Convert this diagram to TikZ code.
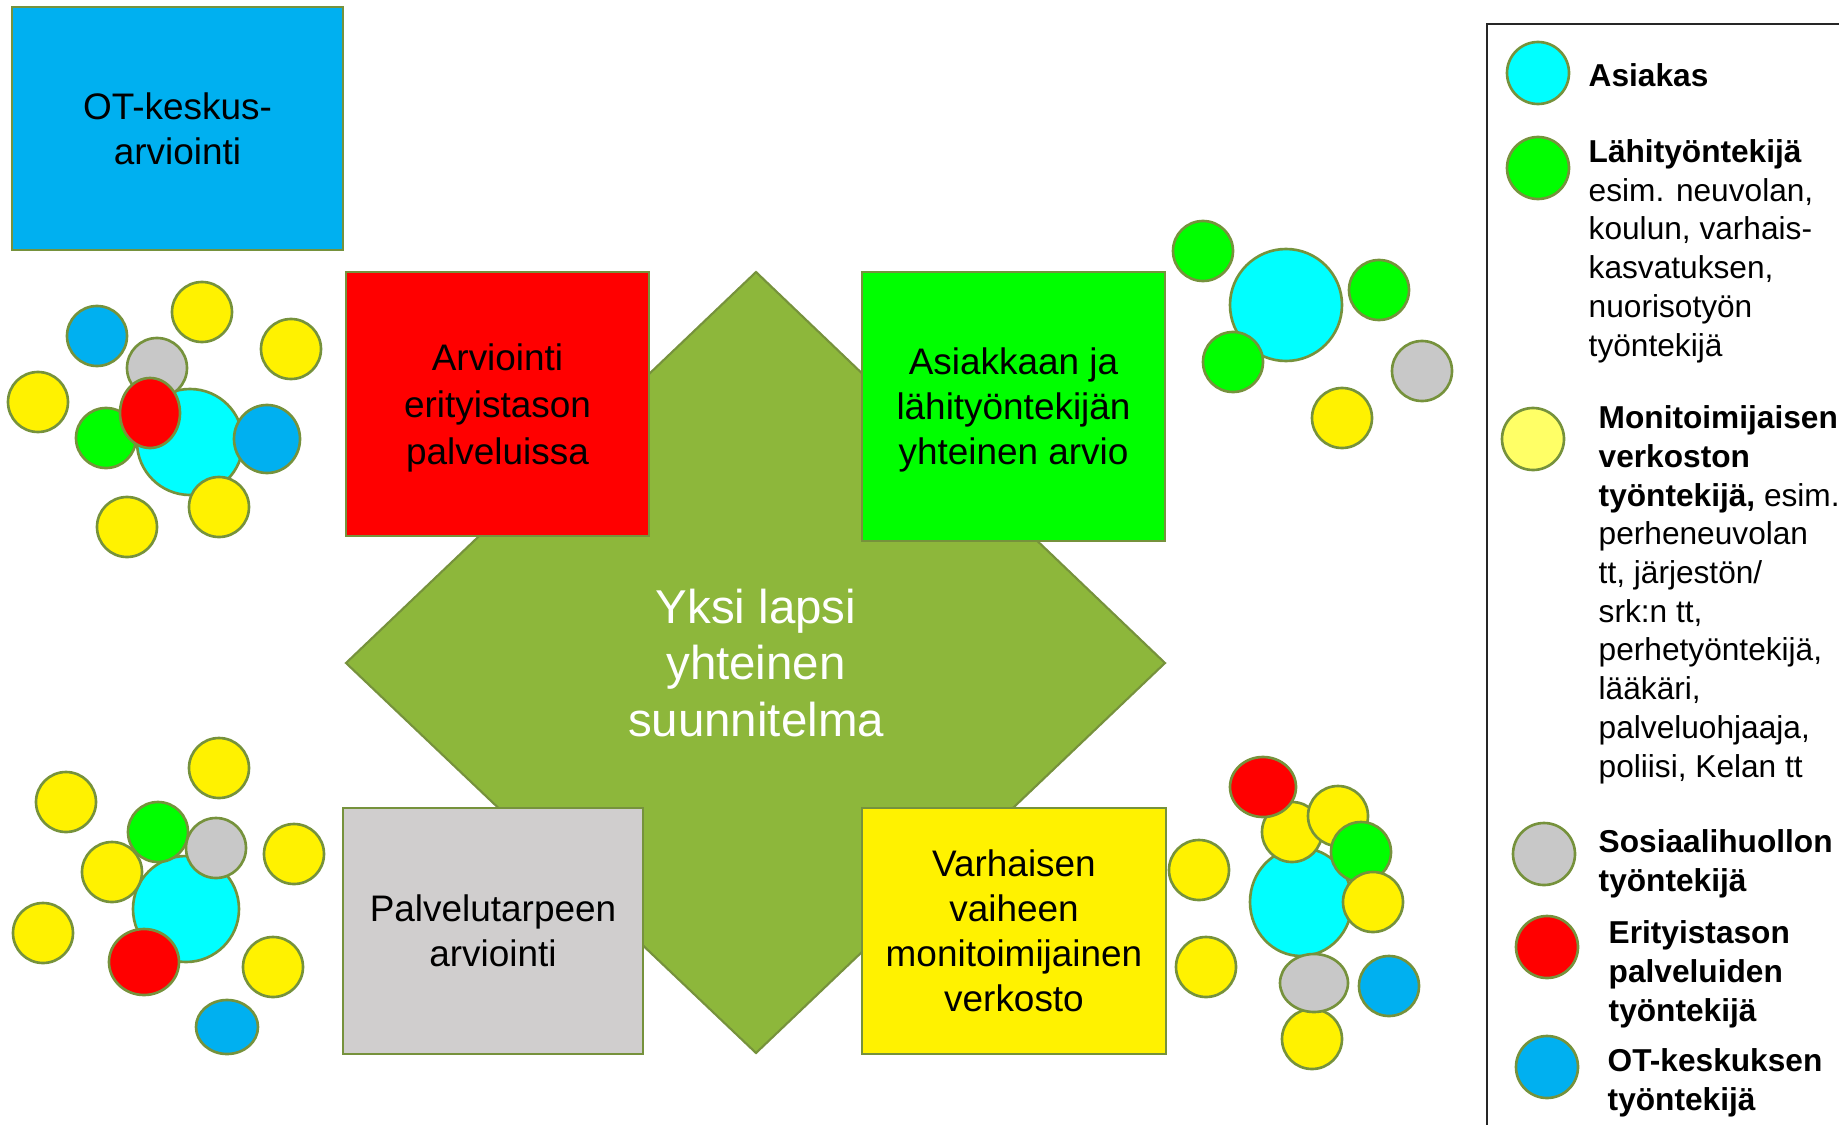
\documentclass[tikz,border=0pt]{standalone}
\usepackage{fontspec}
\setmainfont{Liberation Sans}

\definecolor{edgegreen}{RGB}{118,146,60}
\definecolor{planfill}{RGB}{141,183,59}
\definecolor{otblue}{RGB}{0,176,240}
\definecolor{clientcyan}{RGB}{0,255,255}
\definecolor{sosgray}{RGB}{200,200,200}
\definecolor{boxgray}{RGB}{208,206,206}
\definecolor{paleyellow}{RGB}{255,255,102}

\tikzset{
  box/.style={rectangle, draw=edgegreen, line width=0.6pt, align=center,
    inner sep=0pt, font=\fontsize{10.5}{12.8}\selectfont},
  ball/.style={draw=edgegreen, line width=0.75pt},
  legtext/.style={anchor=base west, align=left, inner sep=0pt,
    font=\fontsize{9}{11}\selectfont},
}
% one round marker: colour, x, y, radius
\newcommand\blob[4]{\draw[ball,fill=#1] (#2,#3) circle [radius=#4];}

\begin{document}
\begin{tikzpicture}[x=0.01cm,y=-0.01cm]
  \useasboundingbox (0,0) rectangle (1839,1124);

  % the plan in the middle
  \draw[fill=planfill,draw=edgegreen,line width=0.6pt]
    (756,272) -- (1165,663) -- (756,1053) -- (346,663) -- cycle;
  \node[white,align=center,font=\fontsize{13.5}{16.2}\selectfont] (plan) at (756,663)
    {Yksi lapsi\\yhteinen\\suunnitelma};

  % boxes
  \node[box,fill=otblue,minimum width=3.31cm,minimum height=2.43cm] (otbox) at (177.5,128.5)
    {OT-keskus-\\arviointi};
  \node[box,fill=red,minimum width=3.03cm,minimum height=2.64cm,
    font=\fontsize{10.5}{13.3}\selectfont,text depth=0pt] (erity) at (497.5,404)
    {Arviointi\\erityistason\\palveluissa};
  \node[box,fill=green,minimum width=3.03cm,minimum height=2.69cm,text depth=0pt] (lahi) at (1013.5,406.5)
    {Asiakkaan ja\\lähityöntekijän\\yhteinen arvio};
  \node[box,fill=boxgray,minimum width=3.00cm,minimum height=2.46cm] (tarve) at (493,931)
    {Palvelutarpeen\\arviointi};
  \node[box,fill=yellow,minimum width=3.04cm,minimum height=2.46cm] (verkko) at (1014,931)
    {Varhaisen\\vaiheen\\monitoimijainen\\verkosto};

  % cluster by the red box
  \blob{yellow}{202}{312}{30}
  \blob{yellow}{291}{349}{30}
  \blob{yellow}{38}{402}{30}
  \blob{otblue}{97}{336}{30}
  \blob{clientcyan}{190}{442}{53}
  \blob{sosgray}{157}{368}{30}
  \blob{green}{106}{438}{30}
  \draw[ball,fill=red] (150,413) ellipse [x radius=30, y radius=35];
  \draw[ball,fill=otblue] (267,439) ellipse [x radius=33, y radius=34];
  \blob{yellow}{219}{507}{30}
  \blob{yellow}{127}{527}{30}

  % cluster by the gray box
  \blob{yellow}{219}{768}{30}
  \blob{yellow}{66}{802}{30}
  \blob{yellow}{294}{854}{30}
  \blob{yellow}{43}{933}{30}
  \blob{yellow}{273}{967}{30}
  \blob{clientcyan}{186}{909}{53}
  \blob{yellow}{112}{872}{30}
  \blob{green}{158}{832}{30}
  \blob{sosgray}{216}{848}{30}
  \draw[ball,fill=red] (144,962) ellipse [x radius=35, y radius=33];
  \draw[ball,fill=otblue] (227,1027) ellipse [x radius=31, y radius=27];

  % cluster by the green box
  \blob{green}{1203}{251}{30}
  \blob{clientcyan}{1286}{305}{56}
  \blob{green}{1233}{362}{30}
  \blob{green}{1379}{290}{30}
  \blob{sosgray}{1422}{371}{30}
  \blob{yellow}{1342}{418}{30}

  % cluster by the yellow box
  \blob{yellow}{1199}{870}{30}
  \blob{yellow}{1206}{967}{30}
  \draw[ball,fill=clientcyan] (1301,902) ellipse [x radius=51, y radius=54];
  \blob{yellow}{1312}{1039}{30}
  \draw[ball,fill=sosgray] (1314,983) ellipse [x radius=34, y radius=29];
  \blob{otblue}{1389}{986}{30}
  \blob{yellow}{1292}{832}{30}
  \draw[ball,fill=red] (1263,787) ellipse [x radius=33, y radius=30];
  \blob{yellow}{1338}{816}{30}
  \blob{green}{1361}{852}{30}
  \blob{yellow}{1373}{902}{30}

  % legend (text placed by the baseline of its last line)
  \draw[black!85,line width=0.7pt] (1487,1140) -- (1487,24) -- (1850,24);
  \blob{clientcyan}{1538}{73}{31}
  \blob{green}{1538}{168}{31}
  \blob{paleyellow}{1533}{439}{31}
  \blob{sosgray}{1544}{854}{31}
  \blob{red}{1547}{947}{31}
  \blob{otblue}{1547}{1067}{31}
  \node[legtext] (asiakas) at (1588,86) {\textbf{Asiakas}};
  \node[legtext] (lahityo) at (1588,356)
    {\textbf{Lähityöntekijä}\\esim. neuvolan,\\koulun, varhais-\\kasvatuksen,\\nuorisotyön\\työntekijä};
  \node[legtext] (moni) at (1598,777)
    {\textbf{Monitoimijaisen}\\\textbf{verkoston}\\\textbf{työntekijä,} esim.\\perheneuvolan\\tt, järjestön/\\srk:n tt,\\perhetyöntekijä,\\lääkäri,\\palveluohjaaja,\\poliisi, Kelan tt};
  \node[legtext] (sosiaali) at (1598,891) {\textbf{Sosiaalihuollon}\\\textbf{työntekijä}};
  \node[legtext] (erityleg) at (1608,1021) {\textbf{Erityistason}\\\textbf{palveluiden}\\\textbf{työntekijä}};
  \node[legtext] (otleg) at (1607,1110) {\textbf{OT-keskuksen}\\\textbf{työntekijä}};
\end{tikzpicture}
\end{document}
